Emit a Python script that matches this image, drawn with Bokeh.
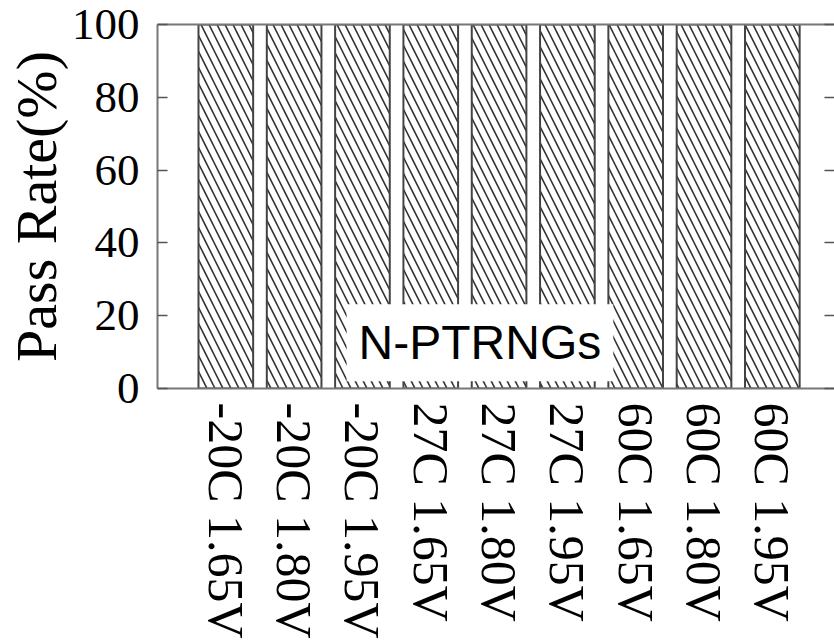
from bokeh.plotting import figure
from bokeh.models import Range1d, FixedTicker, LinearAxis, Label
from bokeh.embed import file_html
from bokeh.resources import INLINE
import math

conditions = ["-20C 1.65V", "-20C 1.80V", "-20C 1.95V",
              "27C 1.65V", "27C 1.80V", "27C 1.95V",
              "60C 1.65V", "60C 1.80V", "60C 1.95V"]
pass_rate = [100, 100, 100, 100, 100, 100, 100, 100, 100]
y_ticks = [0, 20, 40, 60, 80, 100]
legend_text = "N-PTRNGs"

xs = list(range(1, len(conditions) + 1))

p = figure(width=834, height=641, output_backend="svg", toolbar_location=None,
           x_range=Range1d(0, 9.91), y_range=Range1d(0, 100),
           min_border_left=154, min_border_top=24, min_border_bottom=252,
           min_border_right=0, outline_line_color=None)
p.grid.visible = False

p.vbar(x=xs, top=pass_rate, bottom=0, width=0.8, fill_color="white",
       line_color="#444444", line_width=2,
       hatch_pattern="\\", hatch_scale=16, hatch_weight=1.6, hatch_color="#333333")

serif = "Liberation Serif"
ya = p.yaxis[0]
ya.ticker = FixedTicker(ticks=y_ticks)
ya.axis_label = "Pass Rate(%)"
ya.axis_label_text_font = serif
ya.axis_label_text_font_size = "58px"
ya.axis_label_text_font_style = "normal"
ya.axis_label_text_color = "black"
ya.axis_label_standoff = 0
ya.major_label_text_font = serif
ya.major_label_text_font_size = "45px"
ya.major_label_text_color = "black"
ya.major_tick_in = 10
ya.major_tick_out = 0
ya.minor_tick_line_color = None
ya.axis_line_color = "#777777"
ya.axis_line_width = 2
ya.major_tick_line_color = "#555555"
ya.major_tick_line_width = 1.5
ya.major_label_standoff = 18

xa = p.xaxis[0]
xa.ticker = FixedTicker(ticks=xs)
xa.major_label_overrides = {x: c for x, c in zip(xs, conditions)}
xa.major_label_orientation = -math.pi / 2
xa.major_label_text_font = serif
xa.major_label_text_font_size = "50px"
xa.major_label_text_color = "black"
xa.major_tick_in = 0
xa.major_tick_out = 0
xa.minor_tick_line_color = None
xa.axis_line_color = "#777777"
xa.axis_line_width = 2
xa.major_label_standoff = 14

top = LinearAxis(ticker=FixedTicker(ticks=[]), axis_line_color="#777777", axis_line_width=2,
                 major_tick_in=0, major_tick_out=0, minor_tick_line_color=None,
                 major_label_text_font_size="1px")
p.add_layout(top, "above")

right = LinearAxis(ticker=FixedTicker(ticks=y_ticks), axis_line_color=None,
                   major_tick_in=10, major_tick_out=0, minor_tick_line_color=None,
                   major_tick_line_color="#555555", major_tick_line_width=1.5,
                   major_label_overrides={t: "" for t in y_ticks},
                   major_label_text_font_size="1px")
p.add_layout(right, "right")

lab = Label(x=4.72, y=12.6, text=legend_text, text_font="Liberation Sans",
            text_font_size="48px", text_color="black", text_align="center",
            text_baseline="middle", background_fill_color="white",
            border_line_color=None, padding=12)
p.add_layout(lab)

open("out.html", "w").write(file_html(p, INLINE))
